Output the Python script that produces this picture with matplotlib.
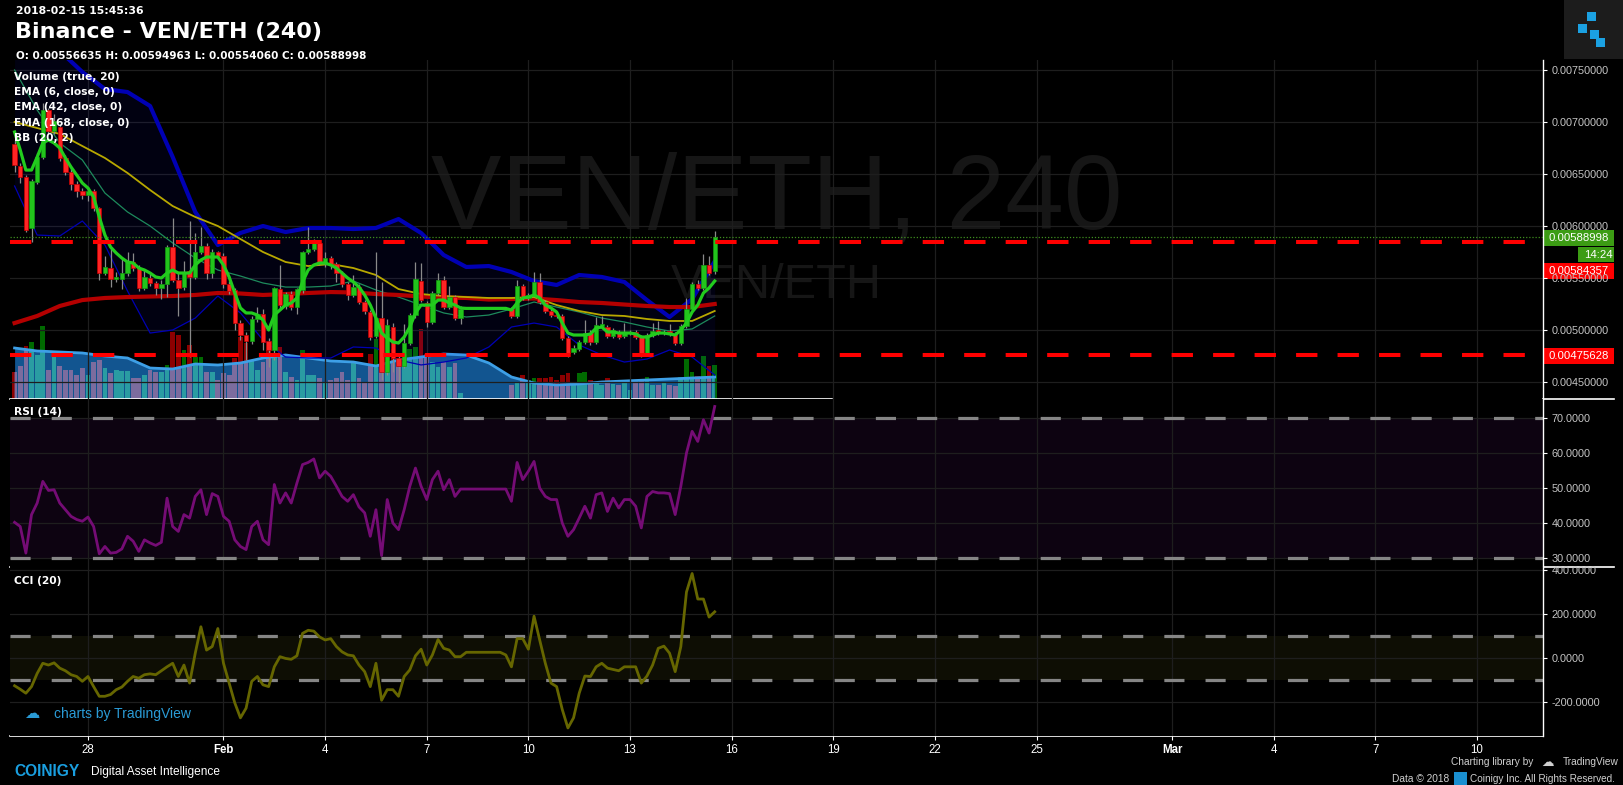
#!/usr/bin/env python3
import numpy as np
import pandas as pd
import matplotlib
matplotlib.use("Agg")
import matplotlib.pyplot as plt
import matplotlib.dates as mdates
from matplotlib.lines import Line2D
from matplotlib.patches import Rectangle

plt.rcParams["font.family"] = "DejaVu Sans"

# ===== CANVAS =====
W, H = 1624, 785
BG = "#000000"

# ===== DATA (4h candles, VEN/ETH) =====
times = pd.date_range("2018-01-25 20:00", periods=125, freq="4h")

opens = [0.006788, 0.006577, 0.006471, 0.005981, 0.006423, 0.006663, 0.007115, 0.006913, 0.006952, 0.006654,
         0.006519, 0.006404, 0.006337, 0.006298, 0.006337, 0.006173, 0.005548, 0.005596, 0.005490, 0.005490,
         0.005548, 0.005654, 0.005596, 0.005404, 0.005500, 0.005452, 0.005404, 0.005442, 0.005798, 0.005481,
         0.005413, 0.005567, 0.005510, 0.005750, 0.005808, 0.005548, 0.005750, 0.005712, 0.005442, 0.005385,
         0.005067, 0.004952, 0.004894, 0.005106, 0.005154, 0.004894, 0.004808, 0.005394, 0.005231, 0.005346,
         0.005221, 0.005385, 0.005750, 0.005779, 0.005837, 0.005644, 0.005692, 0.005635, 0.005548, 0.005442,
         0.005337, 0.005413, 0.005269, 0.005173, 0.004942, 0.005115, 0.004596, 0.005029, 0.004731, 0.004654,
         0.004875, 0.005144, 0.005471, 0.005260, 0.005077, 0.005356, 0.005481, 0.005221, 0.005317, 0.005115,
         0.005202, 0.005202, 0.005202, 0.005202, 0.005202, 0.005202, 0.005202, 0.005202, 0.005202, 0.005135,
         0.005423, 0.005308, 0.005337, 0.005462, 0.005269, 0.005183, 0.005144, 0.005135, 0.004923, 0.004788,
         0.004817, 0.004885, 0.004971, 0.004885, 0.005038, 0.005029, 0.004942, 0.004981, 0.004942, 0.004971,
         0.004981, 0.004933, 0.004779, 0.004952, 0.005000, 0.004971, 0.004990, 0.004962, 0.004875, 0.005038,
         0.005202, 0.005442, 0.005404, 0.005625, 0.00556635]
closes = [0.006587, 0.006471, 0.005962, 0.006433, 0.006663, 0.007115, 0.006913, 0.007010, 0.006654, 0.006519,
          0.006404, 0.006337, 0.006298, 0.006337, 0.006173, 0.005548, 0.005606, 0.005490, 0.005510, 0.005548,
          0.005654, 0.005596, 0.005404, 0.005510, 0.005452, 0.005404, 0.005442, 0.005798, 0.005481, 0.005404,
          0.005558, 0.005510, 0.005750, 0.005808, 0.005548, 0.005750, 0.005712, 0.005442, 0.005375, 0.005067,
          0.004952, 0.004894, 0.005106, 0.005154, 0.004885, 0.004808, 0.005404, 0.005240, 0.005346, 0.005221,
          0.005394, 0.005750, 0.005779, 0.005837, 0.005644, 0.005692, 0.005635, 0.005548, 0.005442, 0.005337,
          0.005413, 0.005269, 0.005183, 0.004933, 0.005115, 0.004596, 0.005048, 0.004731, 0.004654, 0.004875,
          0.005144, 0.005490, 0.005288, 0.005077, 0.005356, 0.005481, 0.005221, 0.005317, 0.005115, 0.005202,
          0.005202, 0.005202, 0.005202, 0.005202, 0.005202, 0.005202, 0.005202, 0.005202, 0.005135, 0.005423,
          0.005308, 0.005337, 0.005462, 0.005269, 0.005183, 0.005144, 0.005135, 0.004923, 0.004779, 0.004827,
          0.004885, 0.004971, 0.004885, 0.005048, 0.005058, 0.004942, 0.005000, 0.004933, 0.004981, 0.004981,
          0.004933, 0.004779, 0.004952, 0.004990, 0.004971, 0.004981, 0.004962, 0.004875, 0.005038, 0.005202,
          0.005442, 0.005404, 0.005625, 0.005548, 0.00588998]
highs = [0.006827, 0.006606, 0.006490, 0.006452, 0.006702, 0.007183, 0.007135, 0.007077, 0.006981, 0.006683,
         0.006558, 0.006433, 0.006365, 0.006375, 0.006356, 0.006183, 0.005712, 0.005798, 0.005558, 0.005692,
         0.005750, 0.005740, 0.005625, 0.005577, 0.005538, 0.005471, 0.005481, 0.005817, 0.006077, 0.005548,
         0.005663, 0.006050, 0.005933, 0.005990, 0.005837, 0.005779, 0.005760, 0.005740, 0.005471, 0.005404,
         0.005096, 0.004981, 0.005135, 0.005221, 0.005202, 0.004923, 0.005413, 0.005625, 0.005365, 0.005375,
         0.005404, 0.005760, 0.005990, 0.005875, 0.005856, 0.005750, 0.005712, 0.005654, 0.005567, 0.005462,
         0.005529, 0.005442, 0.005288, 0.005192, 0.005750, 0.005462, 0.005106, 0.005067, 0.004760, 0.005058,
         0.005164, 0.005654, 0.005644, 0.005279, 0.005375, 0.005548, 0.005519, 0.005423, 0.005337, 0.005231,
         0.005202, 0.005202, 0.005202, 0.005202, 0.005202, 0.005202, 0.005202, 0.005202, 0.005221, 0.005481,
         0.005442, 0.005356, 0.005558, 0.005548, 0.005288, 0.005202, 0.005173, 0.005154, 0.004942, 0.004856,
         0.004904, 0.005096, 0.005000, 0.005125, 0.005135, 0.005048, 0.005019, 0.005000, 0.005067, 0.005000,
         0.005000, 0.004952, 0.004971, 0.005067, 0.005087, 0.005000, 0.005058, 0.004981, 0.005058, 0.005308,
         0.005462, 0.005481, 0.005731, 0.005712, 0.00594963]
lows = [0.006519, 0.006413, 0.005942, 0.005846, 0.006404, 0.006644, 0.006885, 0.006885, 0.006625, 0.006490,
        0.006346, 0.006279, 0.006260, 0.006240, 0.006144, 0.005481, 0.005529, 0.005413, 0.005462, 0.005394,
        0.005519, 0.005567, 0.005375, 0.005385, 0.005423, 0.005337, 0.005298, 0.005317, 0.005462, 0.005135,
        0.005385, 0.004740, 0.005490, 0.005731, 0.005490, 0.005500, 0.005683, 0.005404, 0.005346, 0.005000,
        0.004904, 0.004712, 0.004865, 0.005077, 0.004808, 0.004644, 0.004712, 0.005192, 0.005202, 0.005192,
        0.005154, 0.005356, 0.005731, 0.005760, 0.005625, 0.005606, 0.005587, 0.005462, 0.005413, 0.005288,
        0.005317, 0.005250, 0.005154, 0.004904, 0.004923, 0.004520, 0.004567, 0.004596, 0.004500, 0.004635,
        0.004856, 0.005115, 0.005269, 0.005029, 0.005058, 0.005337, 0.005202, 0.005202, 0.005096, 0.005058,
        0.005202, 0.005202, 0.005202, 0.005202, 0.005202, 0.005202, 0.005202, 0.005202, 0.005115, 0.005115,
        0.005288, 0.005288, 0.005317, 0.005250, 0.005164, 0.005125, 0.005115, 0.004904, 0.004740, 0.004769,
        0.004798, 0.004865, 0.004856, 0.004865, 0.005019, 0.004923, 0.004923, 0.004913, 0.004923, 0.004952,
        0.004913, 0.004740, 0.004760, 0.004933, 0.004952, 0.004952, 0.004942, 0.004856, 0.004856, 0.005019,
        0.005183, 0.005385, 0.005385, 0.005529, 0.00554060]
volume = [27, 33, 53, 57, 44, 73, 29, 47, 33, 29, 29, 24, 31, 24, 37, 39, 31, 26, 29, 28,
          28, 21, 21, 24, 29, 27, 27, 34, 67, 64, 49, 54, 42, 42, 27, 27, 19, 26, 24, 41,
          62, 56, 39, 29, 37, 49, 46, 52, 27, 22, 19, 49, 24, 24, 21, 17, 19, 21, 27, 19,
          37, 21, 17, 45, 60, 75, 65, 50, 40, 45, 50, 52, 70, 45, 37, 32, 37, 32, 36, 6,
          0, 0, 0, 0, 0, 0, 0, 0, 14, 17, 24, 19, 21, 21, 21, 22, 19, 24, 26, 17,
          26, 27, 19, 17, 14, 21, 15, 14, 17, 9, 19, 20, 22, 14, 14, 16, 14, 13, 22, 40,
          27, 23, 43, 33, 34]
ema6 = [0.006904, 0.006731, 0.006538, 0.006538, 0.006663, 0.006798, 0.006827, 0.006798, 0.006750, 0.006654,
        0.006567, 0.006490, 0.006413, 0.006365, 0.006279, 0.006087, 0.005913, 0.005798, 0.005740, 0.005692,
        0.005654, 0.005644, 0.005596, 0.005577, 0.005548, 0.005510, 0.005500, 0.005548, 0.005577, 0.005548,
        0.005548, 0.005548, 0.005625, 0.005673, 0.005702, 0.005702, 0.005702, 0.005625, 0.005510, 0.005356,
        0.005212, 0.005164, 0.005164, 0.005144, 0.005096, 0.005000, 0.005144, 0.005192, 0.005240, 0.005260,
        0.005308, 0.005462, 0.005577, 0.005625, 0.005644, 0.005644, 0.005625, 0.005596, 0.005548, 0.005500,
        0.005462, 0.005413, 0.005337, 0.005240, 0.005115, 0.004971, 0.004923, 0.004885, 0.004875, 0.004933,
        0.005029, 0.005164, 0.005240, 0.005240, 0.005240, 0.005288, 0.005288, 0.005260, 0.005240, 0.005212,
        0.005208, 0.005208, 0.005208, 0.005208, 0.005208, 0.005208, 0.005208, 0.005208, 0.005192, 0.005260,
        0.005308, 0.005317, 0.005337, 0.005308, 0.005240, 0.005212, 0.005173, 0.005067, 0.004971, 0.004952,
        0.004952, 0.004952, 0.004962, 0.005019, 0.005029, 0.004981, 0.004981, 0.004971, 0.004971, 0.004971,
        0.004962, 0.004933, 0.004933, 0.004952, 0.004971, 0.004971, 0.004962, 0.004952, 0.005000, 0.005067,
        0.005173, 0.005240, 0.005356, 0.005404, 0.005471]

# slower overlays, read every 4th candle
ema42 = [0.007000, 0.006942, 0.006885, 0.006769, 0.006654, 0.006510, 0.006346, 0.006192, 0.006087, 0.006000,
         0.005875, 0.005750, 0.005654, 0.005615, 0.005635, 0.005596, 0.005529, 0.005394, 0.005346, 0.005327,
         0.005317, 0.005308, 0.005308, 0.005317, 0.005240, 0.005183, 0.005144, 0.005135, 0.005106, 0.005087,
         0.005087, 0.005183]
ema168 = [0.005067, 0.005135, 0.005231, 0.005288, 0.005308, 0.005317, 0.005322, 0.005327, 0.005337, 0.005356,
          0.005351, 0.005337, 0.005346, 0.005356, 0.005365, 0.005361, 0.005346, 0.005337, 0.005322, 0.005313,
          0.005308, 0.005293, 0.005298, 0.005303, 0.005288, 0.005269, 0.005260, 0.005245, 0.005231, 0.005221,
          0.005221, 0.005250]
bb_upper = [0.008606, 0.008279, 0.007683, 0.007481, 0.007317, 0.007288, 0.007154, 0.006664, 0.006135, 0.005817,
            0.005933, 0.006000, 0.005942, 0.005981, 0.005981, 0.005971, 0.005981, 0.006067, 0.005933, 0.005721,
            0.005606, 0.005615, 0.005558, 0.005471, 0.005433, 0.005529, 0.005510, 0.005462, 0.005288, 0.005125,
            0.005298, 0.005660]
bb_mid = [0.007500, 0.007115, 0.006798, 0.006635, 0.006317, 0.006135, 0.006000, 0.005837, 0.005692, 0.005577,
          0.005519, 0.005452, 0.005413, 0.005413, 0.005423, 0.005471, 0.005385, 0.005317, 0.005240, 0.005164,
          0.005125, 0.005144, 0.005202, 0.005269, 0.005221, 0.005173, 0.005115, 0.005077, 0.005029, 0.004990,
          0.005010, 0.005135]
bb_lower = [0.006385, 0.005913, 0.005904, 0.006048, 0.005817, 0.005375, 0.004971, 0.005000, 0.005115, 0.005327,
            0.005164, 0.004904, 0.004740, 0.004731, 0.004731, 0.004837, 0.004827, 0.004712, 0.004664, 0.004692,
            0.004731, 0.004837, 0.005029, 0.005067, 0.005029, 0.004856, 0.004760, 0.004692, 0.004721, 0.004808,
            0.004740, 0.004567]
vol_ma = [51, 48, 47, 46, 43, 41, 31, 30, 35, 34, 36, 41, 44, 41, 38, 37, 33, 39, 42, 45, 44, 36, 22, 16, 14,
          15, 17, 18, 19, 20, 21, 22]

rsi = [40.2, 39.0, 31.4, 42.4, 45.7, 51.9, 49.3, 49.5, 45.7, 43.8, 41.9, 41.0, 40.5, 41.7, 39.0, 31.2, 33.3,
       31.4, 31.6, 32.6, 36.2, 34.8, 31.9, 35.2, 34.3, 33.6, 34.5, 47.1, 39.0, 37.6, 42.4, 41.4, 47.6, 49.5,
       42.4, 48.4, 47.6, 41.9, 40.5, 35.2, 33.3, 32.4, 39.0, 40.5, 35.2, 33.8, 51.0, 45.7, 48.6, 45.7, 51.4,
       56.7, 57.3, 58.3, 52.9, 54.8, 53.3, 50.5, 47.6, 46.2, 48.1, 44.6, 42.9, 36.2, 43.8, 30.7, 46.7, 40.0,
       38.1, 43.8, 50.5, 55.7, 50.5, 46.7, 52.4, 54.8, 49.5, 52.4, 47.6, 49.7, 49.7, 49.7, 49.7, 49.7, 49.7,
       49.7, 49.7, 49.7, 46.2, 57.3, 52.4, 54.8, 57.6, 50.0, 47.6, 46.7, 46.7, 40.0, 36.2, 38.1, 41.4, 44.8,
       41.4, 48.1, 48.6, 43.3, 47.1, 44.3, 46.7, 46.7, 44.8, 38.6, 47.6, 49.0, 48.6, 48.6, 48.4, 42.4, 50.5,
       60.0, 66.2, 63.3, 69.5, 65.7, 73.3]
cci = [-126, -142, -160, -130, -70, -24, -32, -22, -46, -58, -76, -84, -106, -84, -130, -174, -174, -166,
       -144, -132, -106, -84, -92, -76, -72, -76, -58, -40, -24, -84, -32, -114, 22, 142, 36, 52, 134, -24,
       -114, -204, -272, -228, -106, -84, -122, -130, -40, 6, -2, -6, 10, 112, 126, 122, 96, 82, 88, 52, 28,
       14, 10, -32, -62, -130, -24, -192, -144, -144, -174, -84, -54, 10, 40, -32, 14, 84, 44, 36, 6, 6,
       26, 26, 26, 26, 26, 26, 26, 14, -40, 88, 88, 40, 190, 82, -24, -114, -130, -234, -318, -272, -160,
       -82, -84, -40, -24, -46, -52, -58, -40, -40, -40, -114, -82, -32, 44, 54, 22, -62, 52, 300, 384,
       268, 268, 186, 210]

LEVEL_HI = 0.00584357
LEVEL_LO = 0.00475628
LAST = 0.00588998

DATE_TICKS = ["2018-01-28", "2018-02-01", "2018-02-04", "2018-02-07", "2018-02-10", "2018-02-13",
              "2018-02-16", "2018-02-19", "2018-02-22", "2018-02-25", "2018-03-01", "2018-03-04",
              "2018-03-07", "2018-03-10"]
DATE_LABELS = ["28", "Feb", "4", "7", "10", "13", "16", "19", "22", "25", "Mar", "4", "7", "10"]
PRICE_TICKS = [0.0045, 0.0050, 0.0055, 0.0060, 0.0065, 0.0070, 0.0075]
RSI_TICKS = [30, 40, 50, 60, 70]
CCI_TICKS = [-200, 0, 200, 400]

# ===== COLORS / FONTS =====
CLR_UP, CLR_UP_EDGE = "#22c41c", "#139a10"
CLR_DN, CLR_DN_EDGE = "#ff2424", "#c40000"
CLR_WICK = "#8a8a8a"
CLR_GRID = "#1e1e1e"
CLR_TICK = "#c4c4c4"
CLR_FOOT = "#d0d0d0"
SANS = "Liberation Sans"


def rect(l, t, r, b):
    return [l / W, 1 - b / H, (r - l) / W, (b - t) / H]


def fx(px):
    return px / W


def fy(py):
    return 1 - py / H


x = mdates.date2num(times.to_pydatetime())
xs = x[::4]
x28 = mdates.date2num(pd.Timestamp("2018-01-28").to_pydatetime())
XLIM = (x28 - 2.302, x28 + 42.95)
xticks = mdates.date2num(pd.to_datetime(DATE_TICKS).to_pydatetime())

fig = plt.figure(figsize=(W / 100, H / 100), dpi=100, facecolor=BG)

# ----- volume pane (behind price) -----
axv = fig.add_axes(rect(10, 60, 1543, 399), zorder=1)
axv.set_facecolor(BG)
axv.set_xlim(XLIM)
axv.set_ylim(0, 339)
axv.axis("off")
o = np.array(opens)
c = np.array(closes)
up = c >= o
axv.bar(x, volume, width=0.14, color=np.where(up, "#006a00", "#8c0000"), lw=0, zorder=1)
area = axv.fill_between(xs, 0, vol_ma, color="#125590", lw=0, zorder=2)
# the part of each bar under the moving-average area is tinted
tinted = axv.bar(x, volume, width=0.14, color=np.where(up, "#2a9ca2", "#7c6c9e"), lw=0, zorder=3)
for b in tinted:
    b.set_clip_path(area.get_paths()[0], area.get_transform())
axv.plot(xs, vol_ma, color="#3d9fe6", lw=2.0, zorder=4)
axv.text(0.5, 0.585, "VEN/ETH, 240", transform=axv.transAxes, ha="center", va="center",
         fontsize=76, color="#161616", family=SANS, zorder=0)
axv.text(0.5, 0.335, "VEN/ETH", transform=axv.transAxes, ha="center", va="center",
         fontsize=35, color="#161616", family=SANS, zorder=0)

# ----- price pane -----
ax = fig.add_axes(rect(10, 60, 1543, 399), zorder=2)
ax.set_facecolor("none")
ax.set_xlim(XLIM)
ax.set_ylim(0.0043367, 0.0075962)

ax.fill_between(xs, bb_lower, bb_upper, color="#1a1aff", alpha=0.07, lw=0, zorder=2)
ax.plot(xs, bb_upper, color="#0000b4", lw=3.0, zorder=3)
ax.plot(xs, bb_lower, color="#0000b4", lw=0.9, zorder=3)
ax.plot(xs, bb_mid, color="#1d8a5c", lw=0.9, zorder=3)
ax.plot(xs, ema168, color="#b40000", lw=3.0, zorder=3)
ax.plot(xs, ema42, color="#b8a800", lw=1.3, zorder=3)

body_lo = np.minimum(o, c)
body_h = np.maximum(np.abs(c - o), 0.000012)
ax.vlines(x, lows, highs, color=CLR_WICK, lw=0.9, zorder=4)
ax.bar(x, body_h, bottom=body_lo, width=0.13, color=np.where(up, CLR_UP, CLR_DN),
       edgecolor=np.where(up, CLR_UP_EDGE, CLR_DN_EDGE), lw=0.5, zorder=5)
ax.plot(x, ema6, color="#22cc1e", lw=2.3, zorder=6)

for lvl in (LEVEL_HI, LEVEL_LO):
    ax.axhline(lvl, color="#ff0000", lw=2.9, ls=(0, (5.3, 5.0)), zorder=7)
ax.axhline(LAST, color="#3f8f1f", lw=0.9, ls=(0, (1, 1.5)), zorder=7)

# ----- RSI pane -----
axr = fig.add_axes(rect(10, 399, 1543, 567), zorder=2)
axr.set_facecolor(BG)
axr.set_xlim(XLIM)
axr.set_ylim(27.43, 75.43)
axr.axhspan(30, 70, color="#0d0311", lw=0, zorder=0)
for lvl in (30, 70):
    axr.axhline(lvl, color="#858585", lw=2.3, ls=(0, (6.3, 6.6)), zorder=2)
axr.plot(x, rsi, color="#750c75", lw=2.0, zorder=3)

# ----- CCI pane -----
axc = fig.add_axes(rect(10, 567, 1543, 736), zorder=2)
axc.set_facecolor(BG)
axc.set_xlim(XLIM)
axc.set_ylim(-354.5, 413.6)
axc.axhspan(-100, 100, color="#0e0e04", lw=0, zorder=0)
for lvl in (-100, 100):
    axc.axhline(lvl, color="#858585", lw=2.3, ls=(0, (6.3, 6.6)), zorder=2)
axc.plot(x, cci, color="#666600", lw=2.0, zorder=3)

# ----- shared axis styling -----
for a, ticks, fmt in ((ax, PRICE_TICKS, "{:.8f}"), (axr, RSI_TICKS, "{:.4f}"), (axc, CCI_TICKS, "{:.4f}")):
    for s in ("left", "top", "bottom"):
        a.spines[s].set_visible(False)
    a.spines["right"].set_color("white")
    a.spines["right"].set_linewidth(1.0)
    a.yaxis.tick_right()
    a.set_yticks(ticks)
    a.set_yticklabels([fmt.format(t) for t in ticks])
    a.tick_params(axis="y", length=3, width=0.8, color="white", pad=3, labelsize=7.8,
                  labelcolor=CLR_TICK, labelfontfamily=SANS)
    a.set_xticks(xticks)
    a.tick_params(axis="x", length=0, labelbottom=False)
    a.grid(True, color=CLR_GRID, lw=0.9)
    a.set_axisbelow(True)

axc.set_xticklabels(DATE_LABELS)
axc.tick_params(axis="x", length=3, width=0.8, color="white", labelbottom=True, pad=3,
                labelsize=8.3, labelcolor="white", labelfontfamily=SANS)
for lbl in axc.get_xticklabels():
    if lbl.get_text() in ("Feb", "Mar"):
        lbl.set_fontweight("bold")

# pane separators
for yy in (399, 567):
    fig.add_artist(Line2D([fx(10), fx(832)], [fy(yy), fy(yy)], color="white", lw=1.2))
    fig.add_artist(Line2D([fx(1543), fx(1614)], [fy(yy), fy(yy)], color="white", lw=1.2))
fig.add_artist(Line2D([fx(10), fx(1543)], [fy(736), fy(736)], color="white", lw=1.2))

# price tags on the right axis
for (t, b, l, r, clr, txt) in ((230, 246, 1543, 1614, "#3c9c14", "0.00588998"),
                               (247, 262, 1578, 1614, "#3c9c14", "14:24"),
                               (263, 279, 1543, 1614, "#ff0000", "0.00584357"),
                               (348, 364, 1543, 1614, "#ff0000", "0.00475628")):
    fig.add_artist(Rectangle((fx(l), fy(b)), fx(r) - fx(l), fy(t) - fy(b), color=clr, lw=0))
    fig.text(fx(l + 6), fy((t + b) / 2), txt, color="white", fontsize=8.2, va="center", family=SANS)

# ----- header texts -----
fig.text(fx(16), fy(11), "2018-02-15 15:45:36", color="white", fontsize=7.8, weight="bold", va="center")
fig.text(fx(15), fy(32), "Binance - VEN/ETH (240)", color="white", fontsize=16, weight="bold", va="center")
fig.text(fx(16), fy(56), "O: 0.00556635 H: 0.00594963 L: 0.00554060 C: 0.00588998",
         color="white", fontsize=7.5, weight="bold", va="center")
for k, s in enumerate(["Volume (true, 20)", "EMA (6, close, 0)", "EMA (42, close, 0)",
                       "EMA (168, close, 0)", "BB (20, 2)"]):
    fig.text(fx(14), fy(77 + 15.2 * k), s, color="white", fontsize=7.7, weight="bold", va="center", zorder=5)
fig.text(fx(14), fy(412), "RSI (14)", color="white", fontsize=7.7, weight="bold", va="center", zorder=5)
fig.text(fx(14), fy(581), "CCI (20)", color="white", fontsize=7.7, weight="bold", va="center", zorder=5)

# top-right badge
fig.add_artist(Rectangle((fx(1564), fy(59)), fx(60), 59 / H, color="#1c1c1c", lw=0))
for (l, t, s) in ((1587, 12, 9), (1578, 24, 9), (1590, 30, 9), (1596, 38, 9)):
    fig.add_artist(Rectangle((fx(l), fy(t + s)), fx(s), s / H, color="#1ba1e2", lw=0))

# ----- footer -----
fig.text(fx(54), fy(714), "charts by TradingView", color="#2a9bd6", fontsize=10, va="center", family=SANS)
fig.text(fx(24), fy(714), "\u2601", color="#2a9bd6", fontsize=11, va="center")
fig.text(fx(14), fy(771), "COINIGY", color="#1a9fe0", fontsize=11.2, weight="bold", va="center", family=SANS)
fig.text(fx(91), fy(772), "Digital Asset Intelligence", color="white", fontsize=8.6, va="center", family=SANS)
fig.text(fx(1533), fy(762), "Charting library by", color=CLR_FOOT, fontsize=7.3, va="center",
         ha="right", family=SANS)
fig.text(fx(1541), fy(762), "\u2601", color=CLR_FOOT, fontsize=9, va="center")
fig.text(fx(1563), fy(762), "TradingView", color=CLR_FOOT, fontsize=7.3, va="center", family=SANS)
fig.text(fx(1449), fy(779), "Data \u00a9 2018", color=CLR_FOOT, fontsize=7.3, va="center",
         ha="right", family=SANS)
fig.add_artist(Rectangle((fx(1454), fy(785)), fx(13), 13 / H, color="#1a8fd0", lw=0))
fig.text(fx(1470), fy(779), "Coinigy Inc. All Rights Reserved.", color=CLR_FOOT, fontsize=7.2,
         va="center", family=SANS)

fig.savefig("out.png", dpi=100, facecolor=BG)
